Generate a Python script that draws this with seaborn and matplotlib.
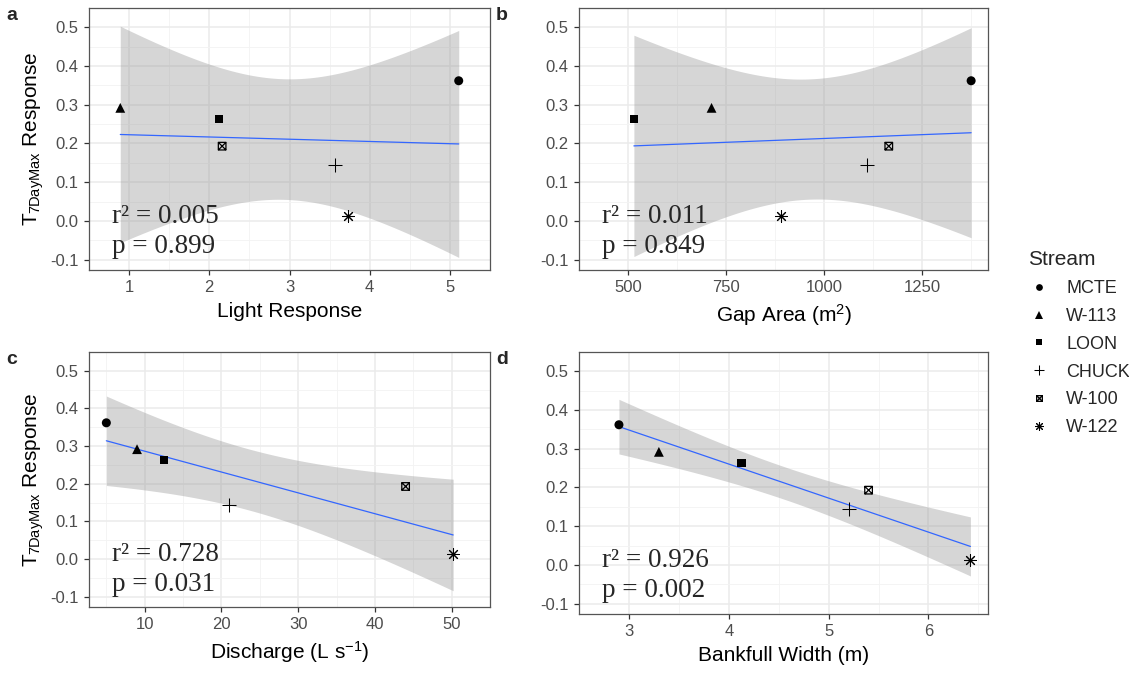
import numpy as np
import pandas as pd
import matplotlib
matplotlib.use("Agg")
import matplotlib.pyplot as plt
from matplotlib.path import Path
from matplotlib.lines import Line2D
import seaborn as sns

# ---------------- data ----------------
streams = ["MCTE", "W-113", "LOON", "CHUCK", "W-100", "W-122"]
t7daymax_response = [0.362, 0.292, 0.263, 0.145, 0.193, 0.013]
light_response = [5.11, 0.89, 2.12, 3.57, 2.16, 3.73]
gap_area = [1375, 713, 515, 1110, 1165, 890]
discharge = [5.0, 9.0, 12.5, 21.0, 44.0, 50.2]
bankfull_width = [2.9, 3.3, 4.13, 5.2, 5.4, 6.42]

panel_letters = ["a", "b", "c", "d"]
x_labels = ["Light Response", "Gap Area (m$^2$)", "Discharge (L s$^{-1}$)", "Bankfull Width (m)"]
r2_texts = ["0.005", "0.011", "0.728", "0.926"]
p_texts = ["0.899", "0.849", "0.031", "0.002"]
x_ticks = [[1, 2, 3, 4, 5], [500, 750, 1000, 1250], [10, 20, 30, 40, 50], [3, 4, 5, 6]]
y_ticks = [-0.1, 0.0, 0.1, 0.2, 0.3, 0.4, 0.5]
T_CRIT_DF4 = 2.776  # t(0.975, df=4)

# ---------------- style ----------------
sns.set_theme(style="white")
plt.rcParams["font.family"] = ["Liberation Sans", "DejaVu Sans"]
plt.rcParams["mathtext.fontset"] = "custom"
plt.rcParams["mathtext.rm"] = "Liberation Sans"
plt.rcParams["mathtext.it"] = "Liberation Sans:italic"
plt.rcParams["mathtext.bf"] = "Liberation Sans:bold"

boxx_path = Path(
    [(-1, -1), (1, -1), (1, 1), (-1, 1), (-1, -1), (-1, -1), (1, 1), (-1, 1), (1, -1)],
    [Path.MOVETO, Path.LINETO, Path.LINETO, Path.LINETO, Path.CLOSEPOLY,
     Path.MOVETO, Path.LINETO, Path.MOVETO, Path.LINETO],
)
marker_specs = {
    "MCTE": dict(marker="o", kind="filled", s=42),
    "W-113": dict(marker="^", kind="filled", s=50),
    "LOON": dict(marker="s", kind="filled", s=38),
    "CHUCK": dict(marker="+", kind="line", s=110),
    "W-100": dict(marker=boxx_path, kind="open", s=30),
    "W-122": dict(marker=(8, 2, 0), kind="line", s=70),
}

fig = plt.figure(figsize=(11.29, 6.73), dpi=100)
W, H = 1129, 673
boxes = [  # left, top, right, bottom in pixels
    (89, 8, 490, 270),
    (579, 8, 988, 270),
    (89, 352, 490, 607),
    (579, 352, 988, 614),
]
xs_all = [light_response, gap_area, discharge, bankfull_width]
y = np.array(t7daymax_response)

for i, (l, t, r, b) in enumerate(boxes):
    ax = fig.add_axes([l / W, 1 - b / H, (r - l) / W, (b - t) / H])
    x = np.array(xs_all[i], dtype=float)
    df = pd.DataFrame({"x": x, "y": y, "Stream": streams})

    # linear fit and 95% confidence band
    n = len(x)
    slope, icpt = np.polyfit(x, y, 1)
    resid = y - (slope * x + icpt)
    s = np.sqrt(np.sum(resid ** 2) / (n - 2))
    sxx = np.sum((x - x.mean()) ** 2)
    xg = np.linspace(x.min(), x.max(), 80)
    yg = slope * xg + icpt
    se = s * np.sqrt(1 / n + (xg - x.mean()) ** 2 / sxx)
    ax.fill_between(xg, yg - T_CRIT_DF4 * se, yg + T_CRIT_DF4 * se,
                    color="#999999", alpha=0.4, linewidth=0, zorder=2)
    sns.lineplot(x=xg, y=yg, color="#3366FF", linewidth=0.9, ax=ax, zorder=3)

    for st in streams:
        sub = df[df["Stream"] == st]
        spec = marker_specs[st]
        if spec["kind"] == "filled":
            sns.scatterplot(data=sub, x="x", y="y", marker=spec["marker"], s=spec["s"],
                            color="black", edgecolor="none", ax=ax, zorder=4, legend=False)
        elif spec["kind"] == "line":
            ax.scatter(sub["x"], sub["y"], marker=spec["marker"], s=spec["s"],
                       color="black", linewidths=0.75, zorder=4)
        else:
            ax.scatter(sub["x"], sub["y"], marker=spec["marker"], s=spec["s"],
                       facecolors="none", edgecolors="black", linewidths=0.9, zorder=4)

    # limits
    xr = x.max() - x.min()
    ax.set_xlim(x.min() - 0.05 * xr, x.max() + 0.05 * xr)
    ax.set_ylim(-0.127, 0.538)
    ax.set_xticks(x_ticks[i])
    ax.set_yticks(y_ticks)
    ax.set_yticklabels([f"{v:.1f}" for v in y_ticks])
    xt = x_ticks[i]
    step = xt[1] - xt[0]
    minors = [v + step / 2 for v in [xt[0] - step] + xt]
    ax.set_xticks(minors, minor=True)
    ax.set_yticks([v + 0.05 for v in [-0.15] + y_ticks], minor=True)
    ax.grid(True, which="major", color="#EBEBEB", linewidth=1.1, zorder=0)
    ax.grid(True, which="minor", color="#F3F3F3", linewidth=0.6, zorder=0)
    ax.set_axisbelow(True)
    for sp in ax.spines.values():
        sp.set_color("#555555")
        sp.set_linewidth(0.9)
    ax.tick_params(which="major", length=3.5, width=0.9, color="#333333",
                   labelsize=12, labelcolor="#4D4D4D", pad=4, left=True, bottom=True)
    ax.tick_params(which="minor", length=0)
    ax.set_xlabel(x_labels[i], fontsize=15, color="black", labelpad=5)
    if i in (0, 2):
        ax.set_ylabel(r"T$_{\mathrm{7DayMax}}$ Response", fontsize=15, color="black", labelpad=3)
    else:
        ax.set_ylabel("")

    ax.text(0.057, 0.205, "r² = " + r2_texts[i], transform=ax.transAxes,
            fontsize=19.5, family="Liberation Serif", va="center", ha="left", zorder=5)
    ax.text(0.057, 0.09, "p = " + p_texts[i], transform=ax.transAxes,
            fontsize=19.5, family="Liberation Serif", va="center", ha="left", zorder=5)

    fig.text((l - 77) / W, 1 - (t + 7) / H, panel_letters[i], fontsize=14,
             fontweight="bold", ha="center", va="center")

# legend
handles = []
for st in streams:
    spec = marker_specs[st]
    ms = np.sqrt(spec["s"]) * 0.75
    if spec["kind"] == "filled":
        h = Line2D([], [], linestyle="none", marker=spec["marker"], color="black",
                   markersize=ms, markeredgewidth=0)
    elif spec["kind"] == "line":
        h = Line2D([], [], linestyle="none", marker=spec["marker"], color="black",
                   markersize=ms, markeredgewidth=0.75)
    else:
        h = Line2D([], [], linestyle="none", marker=spec["marker"], color="black",
                   markerfacecolor="none", markersize=ms, markeredgewidth=0.9)
    handles.append(h)
leg = fig.legend(handles, streams, title="Stream", loc="upper left",
                 bbox_to_anchor=(1012 / W, 1 - 234 / H), frameon=False,
                 fontsize=13, title_fontsize=15, handlelength=1.2,
                 handletextpad=0.9, labelspacing=0.6, alignment="left")

fig.savefig("out.png", dpi=100)
